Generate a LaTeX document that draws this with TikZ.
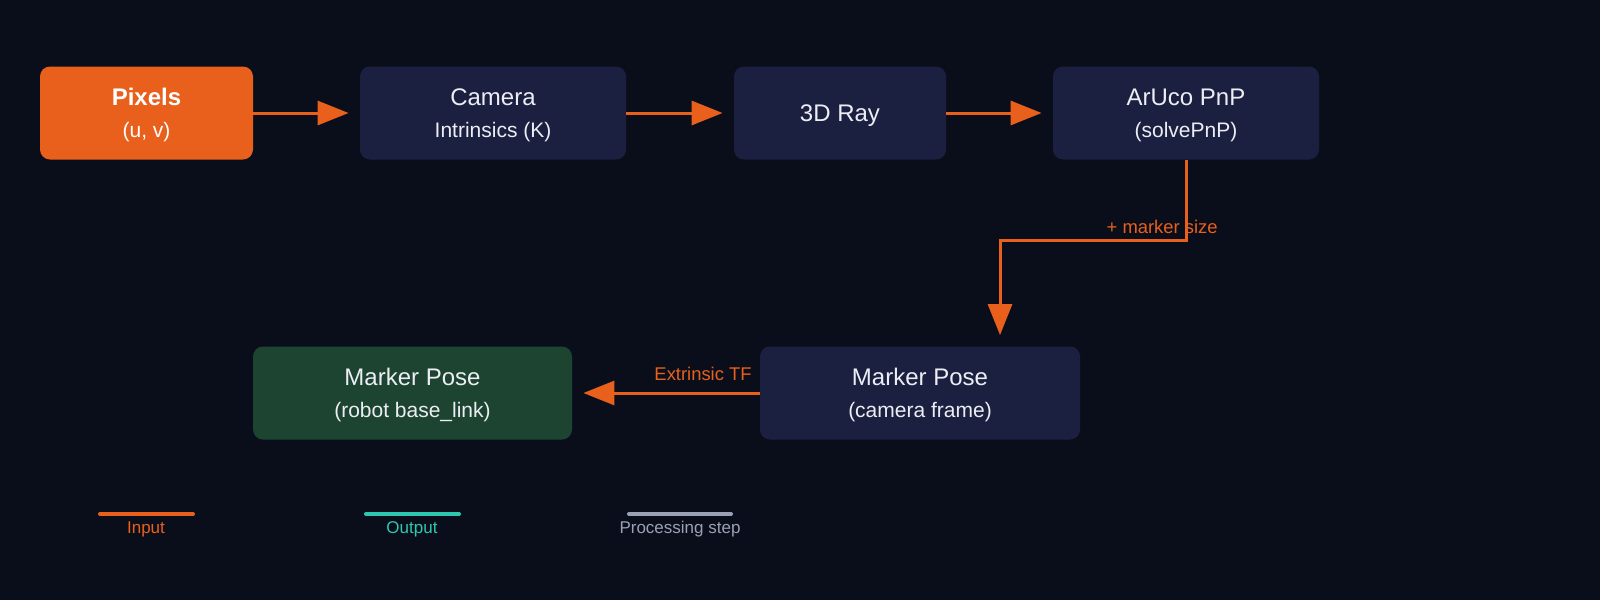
\documentclass[tikz,border=0pt]{standalone}
\usepackage{fontspec}
\setmainfont{Liberation Sans}
\usetikzlibrary{arrows.meta,positioning}
\definecolor{bgdark}{HTML}{0A0E1B}
\definecolor{flow}{HTML}{E8601C}
\definecolor{stepfill}{HTML}{1B2040}
\definecolor{outfill}{HTML}{1C4431}
\definecolor{outcol}{HTML}{2EC8B2}
\definecolor{stepcol}{HTML}{9BA1B5}
\definecolor{boxtext}{HTML}{ECEEF4}
\tikzset{
	box/.style={rectangle, rounded corners=5pt, fill=stepfill, text=boxtext, align=center,
		inner sep=0pt, minimum height=46.5pt, text depth=0pt, font=\fontsize{12}{16}\selectfont},
	flowarrow/.style={draw=flow, line width=1.5pt, shorten >=5.5pt, -{Triangle[length=15.5pt,width=12pt]}},
	flowlabel/.style={text=flow, font=\fontsize{9.2}{11}\selectfont, inner sep=0pt},
	legendline/.style={line width=2pt, line cap=round},
	legendtext/.style={font=\fontsize{8.5}{10}\selectfont, inner sep=0pt}
}
\begin{document}
\begin{tikzpicture}[x=0.5pt, y=-0.5pt]
	\fill[bgdark] (0,0) rectangle (1600,600);
	% top row
	\node[box, fill=flow, text=white, minimum width=106.5pt] (pixels) at (146.5,113) {\textbf{Pixels}\\{\fontsize{10.5}{16}\selectfont (u, v)}};
	\node[box, minimum width=133pt] (camera) at (493,113) {Camera\\{\fontsize{10.5}{16}\selectfont Intrinsics (K)}};
	\node[box, minimum width=106pt] (ray) at (840,113) {3D Ray};
	\node[box, minimum width=133pt] (aruco) at (1186,113) {ArUco PnP\\{\fontsize{10.5}{16}\selectfont (solvePnP)}};
	% bottom row
	\node[box, minimum width=160pt] (posecam) at (920,393) {Marker Pose\\{\fontsize{10.5}{16}\selectfont (camera frame)}};
	\node[box, fill=outfill, minimum width=159.5pt] (posebase) at (412.5,393) {Marker Pose\\{\fontsize{10.5}{16}\selectfont (robot base\_link)}};
	\coordinate (bend) at (1000,240);
	\draw[flowarrow] (pixels) -- (camera);
	\draw[flowarrow] (camera) -- (ray);
	\draw[flowarrow] (ray) -- (aruco);
	\draw[flowarrow] (aruco.south) |- (bend) -- (bend |- posecam.north);
	\draw[flowarrow] (posecam) -- (posebase);
	\node[flowlabel, anchor=east] (sizelabel) at (1218,227) {+ marker size};
	\node[flowlabel, anchor=east] (tflabel) at (752,374) {Extrinsic TF};
	% legend
	\draw[legendline, flow] (100,514) -- (193,514);
	\node[legendtext, text=flow] (leginput) at (146,529) {Input};
	\draw[legendline, outcol] (366,514) -- (459,514);
	\node[legendtext, text=outcol] (legoutput) at (412,529) {Output};
	\draw[legendline, stepcol] (629,514) -- (731,514);
	\node[legendtext, text=stepcol] (legstep) at (680,529) {Processing step};
\end{tikzpicture}
\end{document}
